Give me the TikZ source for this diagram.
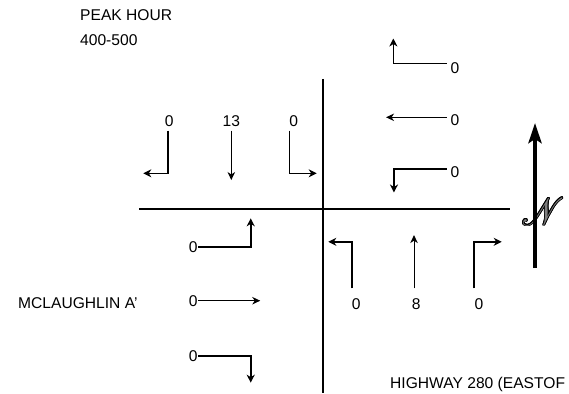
\documentclass[tikz,border=0pt]{standalone}
\usepackage{fontspec}
\setmainfont{Liberation Sans}
\usepackage{mathrsfs}
\usepackage{contour}
\contourlength{0.6pt}
\usetikzlibrary{calc,arrows.meta}

\tikzset{
  road/.style={line width=2pt},
  turn/.style={line width=1.6pt, -{Stealth[length=8pt,width=8pt,inset=2.5pt]}},
  thru/.style={line width=1pt, -{Stealth[length=8pt,width=7.5pt,inset=2.5pt]}},
  vol/.style={font=\fontsize{15.6}{18}\selectfont, inner sep=0pt},
  caption/.style={font=\fontsize{15.6}{18}\selectfont, inner sep=0pt, anchor=base west}
}

\begin{document}
\begin{tikzpicture}[x=1pt,y=-1pt]
  \useasboundingbox (0,0) rectangle (569,393);
  % roads
  \draw[road] (323,79) -- (323,393);
  \draw[road] (139,209) -- (510,209);
  % captions
  \node[caption] (peak) at (80,20.7) {PEAK HOUR};
  \node[caption] (hour) at (80,45.7) {400-500};
  \node[caption] (mclaughlin) at (18,308.3) {MCLAUGHLIN A\char"27};
  \node[caption] (highway) at (390,388) {HIGHWAY 280 (EASTOF};
  % north approach
  \foreach \n/\x/\v in {nL/169.3/0, nT/231.3/13, nR/293.8/0}{
    \node[vol, outer sep=4pt] (\n) at (\x,121) {\v};
  }
  \draw[turn] ($(nL.south)+(-1.6,0)$) -- ++(0,42.8) -- ++(-24.4,0);
  \draw[thru] (nT.south) -- ++(0,49.5);
  \draw[turn] ($(nR.south)+(-4.5,0)$) -- ++(0,42.8) -- ++(27.4,0);
  % east approach
  \foreach \n/\y in {eU/68, eT/120, eR/172}{
    \node[vol, outer sep=4pt] (\n) at (455,\y) {0};
  }
  \draw[turn] ($(eU.west)+(0,-4.5)$) -- ++(-53.3,0) -- ++(0,-25);
  \draw[thru] ($(eT.west)+(0,-2.7)$) -- ++(-60.6,0);
  \draw[turn] ($(eR.west)+(0,-3.2)$) -- ++(-52.7,0) -- ++(0,23.7);
  % west approach
  \foreach \n/\y in {wL/246.7, wT/300.7, wR/355.7}{
    \node[vol, outer sep=0.6pt] (\n) at (193.3,\y) {0};
  }
  \draw[turn] (wL.east) -- ++(52.5,0) -- ++(0,-28.4);
  \draw[thru] (wT.east) -- ++(62,0);
  \draw[turn] (wR.east) -- ++(52.5,0) -- ++(0,27);
  % south approach
  \foreach \n/\x/\v in {sL/356.3/0, sT/416.3/8, sR/479/0}{
    \node[vol, outer sep=10pt] (\n) at (\x,304) {\v};
  }
  \draw[turn] ($(sL.north)+(-4.6,0)$) -- ++(0,-46.7) -- ++(-23.4,0);
  \draw[thru] ($(sT.north)+(-2.3,0)$) -- ++(0,-53.4);
  \draw[turn] ($(sR.north)+(-5,0)$) -- ++(0,-46.7) -- ++(27.7,0);
  % north sign
  \node[font=\fontsize{24}{24}\selectfont, inner sep=0pt] (nsym) at (543,212)
    {\scalebox{1.35}[1.55]{\contour{black}{\textcolor{gray}{$\mathscr{N}$}}}};
  \draw[line width=4pt, -{Stealth[length=20pt,width=13pt,inset=4pt]}] (535,268) -- (535,123);
\end{tikzpicture}
\end{document}
